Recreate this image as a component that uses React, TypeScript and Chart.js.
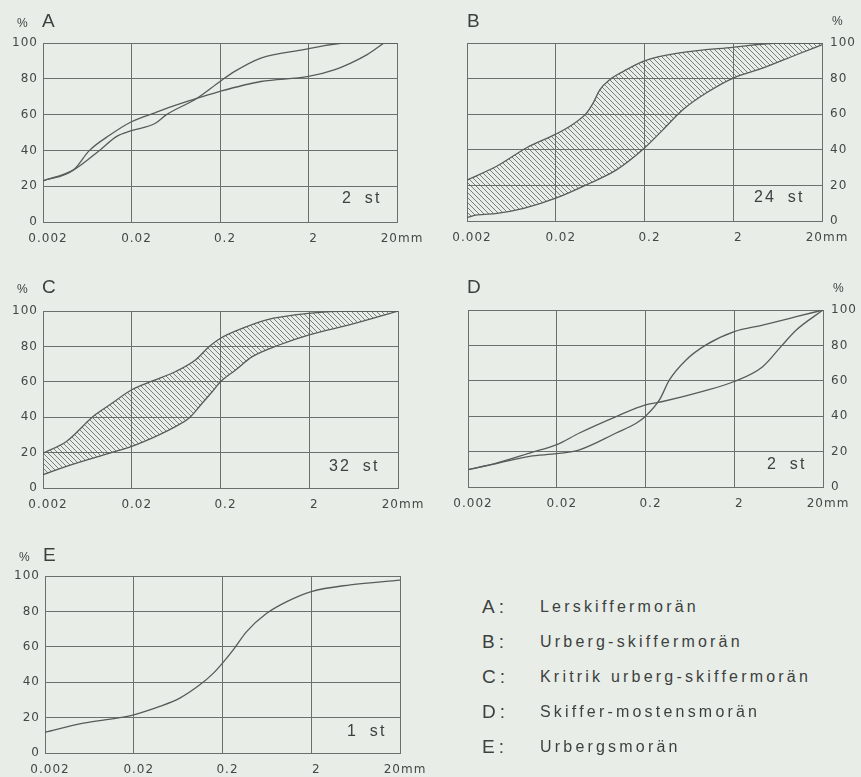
import React, { useEffect, useRef } from "react";
import { Chart, registerables } from "chart.js";

Chart.register(...registerables);

// ---------- axis ticks ----------
const X_TICKS = [0.002, 0.02, 0.2, 2, 20];
const X_TICK_LABELS = ["0.002", "0.02", "0.2", "2", "20mm"];
const Y_TICKS = [0, 20, 40, 60, 80, 100];

// ---------- A: Lerskiffermorän (2 st) ----------
const A1_X = [0.002, 0.0044, 0.0067, 0.0114, 0.02, 0.0368, 0.0646, 0.109, 0.2, 0.58, 2, 3.9, 6.0, 9.2, 14.2];
const A1_Y = [23, 29, 40, 48.6, 56, 61, 65.4, 69, 73, 78.5, 81.3, 85, 88.8, 93.5, 100];
const A2_X = [0.002, 0.0044, 0.0087, 0.0135, 0.02, 0.0368, 0.0498, 0.109, 0.2, 0.29, 0.58, 1.65, 5.5, 20];
const A2_Y = [23, 29, 40, 47.7, 51, 55, 60, 69, 78.5, 84, 91.6, 96, 100, 100];

// ---------- B: Urberg-skiffermorän (24 st) ----------
const B_UP_X = [0.002, 0.00436, 0.00951, 0.02, 0.0313, 0.0444, 0.0527, 0.0627, 0.0813, 0.1148, 0.2, 0.497, 2, 6.7, 20];
const B_UP_Y = [23, 30.9, 41.3, 48.8, 54.4, 60.6, 66.2, 73.7, 79.4, 84, 90, 94.4, 97.6, 100, 100];
const B_LO_X = [0.002, 0.0026, 0.00436, 0.0087, 0.02, 0.0483, 0.0966, 0.2, 0.322, 0.54, 0.99, 2, 4.36, 10.3, 20];
const B_LO_Y = [2, 3.4, 4.3, 7.1, 12.8, 21.2, 28.7, 41, 51.2, 62.5, 71.9, 80.3, 86, 93.4, 99];

// ---------- C: Kritrik urberg-skiffermorän (32 st) ----------
const C_UP_X = [0.002, 0.00367, 0.00733, 0.0113, 0.02, 0.0342, 0.0627, 0.105, 0.149, 0.2, 0.352, 0.645, 2, 5.7, 20];
const C_UP_Y = [19.7, 26.3, 40.4, 47, 55.5, 60.5, 65.8, 72.4, 79.9, 84.6, 90.2, 94.9, 98.7, 100, 100];
const C_LO_X = [0.002, 0.00367, 0.0113, 0.02, 0.0406, 0.0627, 0.0887, 0.125, 0.162, 0.2, 0.296, 0.456, 0.914, 2, 6.2, 20];
const C_LO_Y = [7.5, 12.2, 19.7, 23.5, 30, 34.8, 39.5, 48, 54.5, 60, 66.7, 74.2, 80.8, 86.5, 92.7, 100];

// ---------- D: Skiffer-mostensmorän (2 st) ----------
const D1_X = [0.002, 0.00417, 0.00988, 0.02, 0.036, 0.0934, 0.2, 0.313, 0.881, 2, 4.18, 6.9, 10, 20];
const D1_Y = [9.8, 13.5, 19.2, 23.9, 30.5, 39.8, 46.4, 48.3, 54, 59.6, 68, 80, 88.7, 100];
const D2_X = [0.002, 0.00417, 0.00988, 0.02, 0.036, 0.0934, 0.157, 0.2, 0.287, 0.372, 0.573, 0.962, 2, 4.18, 10, 20];
const D2_Y = [9.8, 13.2, 17.3, 18.8, 21, 30.5, 36, 40, 49.2, 60.5, 71.8, 80.3, 87.8, 91.5, 96.2, 100];

// ---------- E: Urbergsmorän (1 st) ----------
const E_X = [0.002, 0.00541, 0.0129, 0.02, 0.0393, 0.066, 0.111, 0.157, 0.2, 0.264, 0.374, 0.63, 1.06, 2, 5.5, 20];
const E_Y = [11.7, 16.9, 19.7, 21.6, 26.3, 31, 38.5, 45, 50.8, 58.3, 68.6, 78.9, 85.5, 91.2, 95, 97.7];

// ---------- text ----------
const PANEL_LETTERS = ["A", "B", "C", "D", "E"];
const PANEL_COUNTS = ["2 st", "24 st", "32 st", "2 st", "1 st"];
const LEGEND_NAMES = [
  "Lerskiffermorän",
  "Urberg-skiffermorän",
  "Kritrik urberg-skiffermorän",
  "Skiffer-mostensmorän",
  "Urbergsmorän",
];

// ---------- styles ----------
const FONT = '"Liberation Sans", Arial, Helvetica, sans-serif';
const TICK_FONT = '"DejaVu Sans", "Liberation Sans", Arial, sans-serif';
const BG = "#e8ede7";
const LINE = "#565c5a";
const GRID = "#6b706e";
const TEXT = "#3c413f";
const TICK_TEXT = "#434846";

type Box = { left: number; top: number; width: number; height: number };
type Plot = { left: number; top: number; right: number; bottom: number };
type Series = { xs: number[]; ys: number[]; fillNext?: boolean };
type PanelCfg = { canvas: Box; plot: Plot; yPos: "left" | "right"; series: Series[] };

const PANELS: PanelCfg[] = [
  {
    canvas: { left: 0, top: 0, width: 430, height: 250 },
    plot: { left: 43, top: 43, right: 397, bottom: 222 },
    yPos: "left",
    series: [{ xs: A1_X, ys: A1_Y }, { xs: A2_X, ys: A2_Y }],
  },
  {
    canvas: { left: 430, top: 0, width: 431, height: 250 },
    plot: { left: 467, top: 43, right: 822, bottom: 221 },
    yPos: "right",
    series: [{ xs: B_UP_X, ys: B_UP_Y, fillNext: true }, { xs: B_LO_X, ys: B_LO_Y }],
  },
  {
    canvas: { left: 0, top: 250, width: 430, height: 265 },
    plot: { left: 43, top: 311, right: 398, bottom: 488 },
    yPos: "left",
    series: [{ xs: C_UP_X, ys: C_UP_Y, fillNext: true }, { xs: C_LO_X, ys: C_LO_Y }],
  },
  {
    canvas: { left: 430, top: 250, width: 431, height: 265 },
    plot: { left: 468, top: 310, right: 823, bottom: 487 },
    yPos: "right",
    series: [{ xs: D1_X, ys: D1_Y }, { xs: D2_X, ys: D2_Y }],
  },
  {
    canvas: { left: 0, top: 515, width: 430, height: 262 },
    plot: { left: 45, top: 576, right: 400, bottom: 753 },
    yPos: "left",
    series: [{ xs: E_X, ys: E_Y }],
  },
];

// title / annotation placement (x, baseline)
const LETTER_POS = [
  [42, 27], [467, 27], [42, 293], [467, 293], [43, 561],
];
const PERCENT_POS = [
  [17, 27], [832, 25], [17, 293], [833, 292], [19, 561],
];
const COUNT_POS = [
  [342, 204], [754, 203], [329, 472], [767, 470], [347, 737],
];

function makeHatch(): CanvasPattern | string {
  const c = document.createElement("canvas");
  c.width = 5;
  c.height = 5;
  const g = c.getContext("2d");
  if (!g) return "rgba(0,0,0,0.15)";
  g.strokeStyle = "rgba(85,90,88,0.85)";
  g.lineWidth = 0.9;
  g.beginPath();
  g.moveTo(0, 0);
  g.lineTo(5, 5);
  g.moveTo(-1, 4);
  g.lineTo(1, 6);
  g.moveTo(4, -1);
  g.lineTo(6, 1);
  g.stroke();
  return g.createPattern(c, "repeat") || "rgba(0,0,0,0.15)";
}

const spacingPlugin = {
  id: "letterSpacing",
  beforeDraw(chart: any) {
    (chart.ctx as any).letterSpacing = "1px";
  },
};

function Panel({ cfg }: { cfg: PanelCfg }) {
  const ref = useRef<HTMLCanvasElement>(null);
  const cv = cfg.canvas;
  useEffect(() => {
    const el = ref.current;
    if (!el) return;
    const { plot, yPos } = cfg;
    const yW = yPos === "left" ? plot.left - cv.left : cv.left + cv.width - plot.right;
    const xH = cv.top + cv.height - plot.bottom;
    const pad = {
      top: plot.top - cv.top,
      bottom: 0,
      left: yPos === "left" ? 0 : plot.left - cv.left,
      right: yPos === "left" ? cv.left + cv.width - plot.right : 0,
    };
    const pattern = makeHatch();
    const datasets = cfg.series.map((s) => ({
      data: s.xs.map((x, j) => ({ x, y: s.ys[j] })),
      borderColor: LINE,
      borderWidth: 1.3,
      pointRadius: 0,
      cubicInterpolationMode: "monotone" as const,
      fill: s.fillNext ? "+1" : false,
      backgroundColor: s.fillNext ? pattern : "transparent",
    }));
    const chart = new Chart(el, {
      type: "line",
      data: { datasets: datasets as any },
      plugins: [spacingPlugin],
      options: {
        animation: false,
        responsive: false,
        maintainAspectRatio: false,
        events: [],
        layout: { padding: pad },
        plugins: { legend: { display: false }, tooltip: { enabled: false }, title: { display: false } },
        scales: {
          x: {
            type: "logarithmic",
            min: 0.002,
            max: 20,
            afterBuildTicks: (s: any) => {
              s.ticks = X_TICKS.map((v) => ({ value: v }));
            },
            afterFit: (s: any) => {
              s.height = xH;
            },
            grid: { color: GRID, lineWidth: 1, drawTicks: false },
            border: { color: GRID, width: 1 },
            ticks: {
              autoSkip: false,
              maxRotation: 0,
              minRotation: 0,
              padding: 10,
              labelOffset: 5,
              color: TICK_TEXT,
              font: { family: TICK_FONT, size: 12 },
              callback: (_v: any, i: number) => X_TICK_LABELS[i],
            },
          },
          y: {
            type: "linear",
            position: yPos,
            min: 0,
            max: 100,
            afterBuildTicks: (s: any) => {
              s.ticks = Y_TICKS.map((v) => ({ value: v }));
            },
            afterFit: (s: any) => {
              s.width = yW;
            },
            grid: { color: GRID, lineWidth: 1, drawTicks: false },
            border: { color: GRID, width: 1 },
            ticks: {
              padding: yPos === "left" ? 5 : 8,
              color: TICK_TEXT,
              font: { family: TICK_FONT, size: 12 },
              callback: (v: any) => String(v),
            },
          },
        },
      } as any,
    });
    return () => chart.destroy();
  }, [cfg]);
  return (
    <canvas
      ref={ref}
      width={cv.width}
      height={cv.height}
      style={{ position: "absolute", left: cv.left, top: cv.top, width: cv.width, height: cv.height }}
    />
  );
}

function Txt(props: {
  x: number;
  base: number;
  size: number;
  ls?: number;
  ws?: number;
  children: React.ReactNode;
}) {
  const { x, base, size, ls = 0, ws = 0, children } = props;
  return (
    <div
      style={{
        position: "absolute",
        left: x,
        top: base - 0.8465 * size,
        fontSize: size,
        lineHeight: `${size}px`,
        letterSpacing: ls,
        wordSpacing: ws,
        whiteSpace: "pre",
        color: TEXT,
        fontFamily: FONT,
      }}
    >
      {children}
    </div>
  );
}

export default function App() {
  return (
    <div
      style={{
        position: "absolute",
        left: 0,
        top: 0,
        width: 861,
        height: 777,
        overflow: "hidden",
        background: BG,
        fontFamily: FONT,
      }}
    >
      {PANELS.map((p, i) => (
        <Panel key={i} cfg={p} />
      ))}
      {PANEL_LETTERS.map((l, i) => (
        <Txt key={"l" + i} x={LETTER_POS[i][0]} base={LETTER_POS[i][1]} size={19}>
          {l}
        </Txt>
      ))}
      {PANEL_LETTERS.map((_, i) => (
        <Txt key={"p" + i} x={PERCENT_POS[i][0]} base={PERCENT_POS[i][1]} size={12}>
          %
        </Txt>
      ))}
      {PANEL_COUNTS.map((c, i) => (
        <Txt key={"c" + i} x={COUNT_POS[i][0]} base={COUNT_POS[i][1]} size={16} ls={2.2} ws={5}>
          {c}
        </Txt>
      ))}
      {LEGEND_NAMES.map((n, i) => (
        <React.Fragment key={"g" + i}>
          <Txt x={482} base={613 + i * 35} size={19} ls={4}>
            {PANEL_LETTERS[i] + ":"}
          </Txt>
          <Txt x={540} base={613 + i * 35} size={16} ls={3.2}>
            {n}
          </Txt>
        </React.Fragment>
      ))}
    </div>
  );
}
